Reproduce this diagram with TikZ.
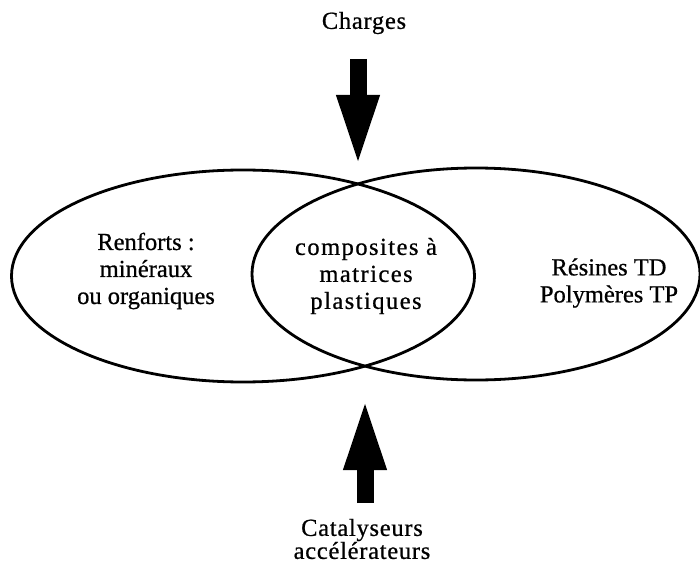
\documentclass[tikz,border=0pt]{standalone}
\usepackage{fontspec}
\setmainfont{Liberation Serif}[FakeBold=0.7]
\usetikzlibrary{arrows.meta,positioning,shapes.geometric}
\tikzset{
  blob/.style={ellipse,draw,line width=2.8pt,inner sep=0pt,outer sep=0pt},
  lbl/.style={font=\fontsize{24.5}{27}\selectfont,align=center,inner sep=0pt},
  spaced/.style={font=\fontsize{24.5}{27}\selectfont\addfontfeature{LetterSpace=6},align=center,inner sep=0pt},
  bigarrow/.style={line width=17pt,-{Triangle[length=73pt,width=38pt]}}
}

\begin{document}
\begin{tikzpicture}[x=1pt,y=-1pt]
  \useasboundingbox (0,0) rectangle (700,569);

  % the two sets
  \node[blob,minimum width=463pt,minimum height=212pt] (renf) at (243,276) {};
  \node[blob,minimum width=448pt,minimum height=212pt] (resi) at (476,274) {};

  % labels
  \node[lbl] (renftxt) at (146,271) {Renforts :\\minéraux\\ou organiques};
  \node[spaced] (comptxt) at (366,276) {composites à\\matrices\\plastiques};
  \node[lbl] (resitxt) at (609,283) {Résines TD\\Polymères TP};

  % inputs
  \node[lbl,font=\fontsize{24.5}{27}\selectfont\addfontfeature{LetterSpace=3}] (charges) at (364,23) {Charges};
  \node[lbl,font=\fontsize{24.5}{23}\selectfont\addfontfeature{LetterSpace=3}] (catal) at (362,539) {Catalyseurs\\accélérateurs};
  \coordinate (ctop) at (358,59);
  \coordinate (xtop) at (358,168);
  \coordinate (cbot) at (365,503);
  \coordinate (xbot) at (365,397);
  \draw[bigarrow] (ctop) -- (xtop);
  \draw[bigarrow] (cbot) -- (xbot);
\end{tikzpicture}
\end{document}
